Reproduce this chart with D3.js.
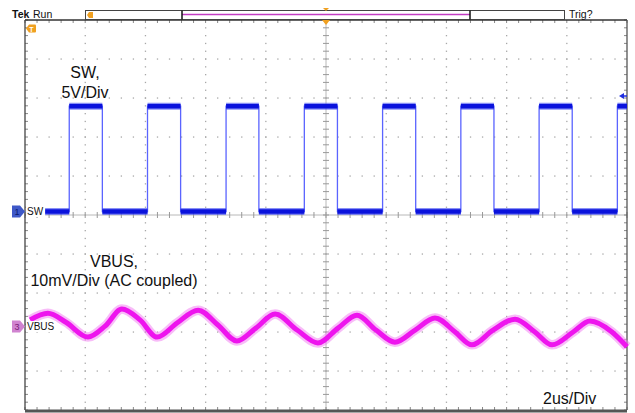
<!DOCTYPE html>
<html>
<head>
<meta charset="utf-8">
<script src="https://cdn.jsdelivr.net/npm/d3@7"></script>
<style>
  html, body { margin: 0; padding: 0; background: #fff; }
  svg { display: block; font-family: "Liberation Sans", Arial, Helvetica, sans-serif; }
</style>
</head>
<body>
<svg id="chart" width="635" height="413"></svg>
<script>
// ---- Data ----
// Scope settings
const timePerDiv = 2;          // us/div
const sw_voltsPerDiv = 5;      // V/div
const vbus_mVPerDiv = 10;      // mV/div
const sw_position = 0.09;      // divisions (ground marker of ch1)
const vbus_position = -2.86;   // divisions (ground marker of ch3)

// SW switching node: rising/falling edge times (us), levels (V)
const swRiseTimes = [-8.53, -5.93, -3.32, -0.72, 1.88, 4.48, 7.08, 9.68];
const swFallTimes = [-7.43, -4.83, -2.23, 0.38, 2.98, 5.58, 8.18];
const swHigh = 13.5;   // V
const swLow = 0.0;     // V
const swStart = -9.95, swEnd = 10.0;

// VBUS ripple (AC coupled): time (us) and value (mV)
const vbusTimes  = [-9.83, -9.24, -8.64, -7.91, -7.34, -6.78, -6.18, -5.61, -4.95, -4.25, -3.59, -2.96,
                    -2.33, -1.69, -0.96, -0.27, 0.40, 1.03, 1.66, 2.29, 2.96, 3.62, 4.29, 4.85,
                    5.55, 6.28, 6.94, 7.51, 8.21, 8.77, 9.50, 10.0];
const vbusValues = [1.7, 3.4, 1.1, -2.7, 0.1, 4.5, 1.7, -2.7, 0.9, 4.2, 0.4, -3.7,
                    -0.4, 3.2, -0.9, -4.2, -0.4, 2.9, -0.9, -4.0, -0.9, 2.2, -1.4, -4.7,
                    -0.9, 1.9, -1.4, -4.7, -1.4, 1.4, -1.4, -5.2];

// Grid divisions
const xDivs = d3.range(-5, 5.001, 1);
const yDivs = d3.range(-5, 5.001, 1);

// Labels
const swLabel = ["SW,", "5V/Div"];
const vbusLabel = ["VBUS,", "10mV/Div (AC coupled)"];
const timeLabel = "2us/Div";

// ---- Scales ----
const svg = d3.select("#chart");
const X = d3.scaleLinear().domain([-5, 5]).range([25, 627]);   // divisions -> px
const Y = d3.scaleLinear().domain([-5, 5]).range([410, 20]);
const T = d3.scaleLinear().domain([-5 * timePerDiv, 5 * timePerDiv]).range([25, 627]);
const ySW = v => Y(sw_position + v / sw_voltsPerDiv);
const yVB = mv => Y(vbus_position + mv / vbus_mVPerDiv);

// ---- Grid ----
const grid = svg.append("g");
const minor = d3.range(-5, 5.001, 0.2).map(v => Math.round(v * 10) / 10);
const dotColor = "#a8a8a8";
xDivs.filter(d => d !== 0 && Math.abs(d) !== 5).forEach(d => {
  grid.selectAll(null).data(minor.filter(m => Math.abs(m) !== 5)).enter().append("rect")
    .attr("x", X(d) - 0.6).attr("y", m => Y(m) - 0.6).attr("width", 1.3).attr("height", 1.3)
    .attr("fill", dotColor);
});
yDivs.filter(d => d !== 0 && Math.abs(d) !== 5).forEach(d => {
  grid.selectAll(null).data(minor.filter(m => Math.abs(m) !== 5)).enter().append("rect")
    .attr("x", m => X(m) - 0.6).attr("y", Y(d) - 0.6).attr("width", 1.3).attr("height", 1.3)
    .attr("fill", dotColor);
});
grid.append("line").attr("x1", X(0)).attr("x2", X(0)).attr("y1", Y(5)).attr("y2", Y(-5))
  .attr("stroke", "#b8b8b8").attr("stroke-width", 1);
grid.append("line").attr("x1", X(-5)).attr("x2", X(5)).attr("y1", Y(0)).attr("y2", Y(0))
  .attr("stroke", "#b8b8b8").attr("stroke-width", 1);
grid.selectAll(null).data(minor).enter().append("line")
  .attr("x1", X(0) - 3).attr("x2", X(0) + 3).attr("y1", m => Y(m)).attr("y2", m => Y(m))
  .attr("stroke", "#999").attr("stroke-width", 1);
grid.selectAll(null).data(minor).enter().append("line")
  .attr("y1", Y(0) - 3).attr("y2", Y(0) + 3).attr("x1", m => X(m)).attr("x2", m => X(m))
  .attr("stroke", "#999").attr("stroke-width", 1);
grid.selectAll(null).data(minor).enter().append("line")
  .attr("x1", m => X(m)).attr("x2", m => X(m)).attr("y1", Y(5)).attr("y2", Y(5) + 3)
  .attr("stroke", "#888");
grid.selectAll(null).data(minor).enter().append("line")
  .attr("x1", m => X(m)).attr("x2", m => X(m)).attr("y1", Y(-5)).attr("y2", Y(-5) - 3)
  .attr("stroke", "#888");
grid.selectAll(null).data(minor).enter().append("line")
  .attr("x1", X(-5)).attr("x2", X(-5) + 3).attr("y1", m => Y(m)).attr("y2", m => Y(m))
  .attr("stroke", "#888");
grid.selectAll(null).data(minor).enter().append("line")
  .attr("x1", X(5)).attr("x2", X(5) - 3).attr("y1", m => Y(m)).attr("y2", m => Y(m))
  .attr("stroke", "#888");
grid.append("line").attr("x1", X(-5)).attr("x2", X(5)).attr("y1", Y(5)).attr("y2", Y(5))
  .attr("stroke", "#333").attr("stroke-width", 1.3);
grid.append("line").attr("x1", X(-5)).attr("x2", X(-5)).attr("y1", Y(5)).attr("y2", Y(-5))
  .attr("stroke", "#444").attr("stroke-width", 1.3);
grid.append("line").attr("x1", X(5)).attr("x2", X(5)).attr("y1", Y(5)).attr("y2", Y(-5))
  .attr("stroke", "#555").attr("stroke-width", 1.3);
grid.append("line").attr("x1", X(-5)).attr("x2", X(5)).attr("y1", Y(-5) + 1).attr("y2", Y(-5) + 1)
  .attr("stroke", "#555").attr("stroke-width", 3);

// ---- SW trace ----
const swPts = [[swStart, swLow]];
swRiseTimes.forEach((r, i) => {
  swPts.push([r, swLow], [r, swHigh]);
  if (i < swFallTimes.length) swPts.push([swFallTimes[i], swHigh], [swFallTimes[i], swLow]);
});
swPts.push([swEnd, swHigh]);
const swLine = d3.line().x(d => T(d[0])).y(d => ySW(d[1]));
svg.append("path").datum(swPts).attr("d", swLine)
  .attr("fill", "none").attr("stroke", "#5a64ff").attr("stroke-width", 1.3);
const segs = [];
for (let i = 0; i < swPts.length - 1; i++) {
  if (swPts[i][1] === swPts[i + 1][1] && swPts[i][0] !== swPts[i + 1][0]) segs.push([swPts[i], swPts[i + 1]]);
}
svg.selectAll(null).data(segs).enter().append("path")
  .attr("d", d => swLine(d))
  .attr("fill", "none").attr("stroke", "#3a46f0").attr("stroke-width", 7).attr("opacity", 0.6);
svg.selectAll(null).data(segs).enter().append("path")
  .attr("d", d => swLine(d))
  .attr("fill", "none").attr("stroke", "#0a12dc").attr("stroke-width", 4.5);

// ---- VBUS trace ----
const vbData = vbusTimes.map((t, i) => [t, vbusValues[i]]);
const vbLine = d3.line().x(d => T(d[0])).y(d => yVB(d[1])).curve(d3.curveMonotoneX);
svg.append("path").datum(vbData).attr("d", vbLine)
  .attr("fill", "none").attr("stroke", "#f27af2").attr("stroke-width", 9.5).attr("opacity", 0.5);
svg.append("path").datum(vbData).attr("d", vbLine)
  .attr("fill", "none").attr("stroke", "#ee14ee").attr("stroke-width", 5);

// ---- Top status bar ----
svg.append("text").attr("x", 12).attr("y", 18).attr("font-size", 10.5).attr("font-weight", "bold")
  .attr("fill", "#111").text("Tek");
svg.append("text").attr("x", 33).attr("y", 18).attr("font-size", 10.5).attr("fill", "#111").text("Run");
svg.append("rect").attr("x", 85.5).attr("y", 10.5).attr("width", 479).attr("height", 9)
  .attr("fill", "#fff").attr("stroke", "#444").attr("stroke-width", 1);
svg.append("line").attr("x1", 182).attr("x2", 470).attr("y1", 14.5).attr("y2", 14.5)
  .attr("stroke", "#c23cc2").attr("stroke-width", 1.5);
[182, 470].forEach(x => svg.append("line").attr("x1", x).attr("x2", x).attr("y1", 10.5).attr("y2", 19.5)
  .attr("stroke", "#111").attr("stroke-width", 1.5));
svg.append("path").attr("d", "M87,15 L89,12 L93,12 L93,18 L89,18 Z").attr("fill", "#f0a020");
svg.append("path").attr("d", `M${X(0) - 3},8 L${X(0) + 3},8 L${X(0)},11 Z`).attr("fill", "#f0a020");
svg.append("path").attr("d", `M${X(0) - 4},20 L${X(0) + 4},20 L${X(0)},25 Z`).attr("fill", "#f0a020");
svg.append("text").attr("x", 569).attr("y", 18).attr("font-size", 10.5).attr("fill", "#111").text("Trig?");

svg.append("path").attr("d", "M26,28.5 L29,24.5 L35,24.5 Q36,24.5 36,25.5 L36,31.5 Q36,32.5 35,32.5 L29,32.5 Z")
  .attr("fill", "#f0a020");
svg.append("text").attr("x", 31.5).attr("y", 31.5).attr("font-size", 7).attr("font-weight", "bold")
  .attr("text-anchor", "middle").attr("fill", "#fff").text("T");
svg.append("path").attr("d", "M619,96 L624,93 L624,99 Z").attr("fill", "#2030e0");
svg.append("line").attr("x1", 622).attr("x2", 627).attr("y1", 96).attr("y2", 96)
  .attr("stroke", "#2030e0").attr("stroke-width", 1.5);

function chMarker(y, fill, txtFill, num, name) {
  svg.append("path")
    .attr("d", `M12,${y - 6} L20,${y - 6} L25,${y} L20,${y + 6} L12,${y + 6} Z`)
    .attr("fill", fill);
  svg.append("text").attr("x", 17).attr("y", y + 3.5).attr("font-size", 9)
    .attr("text-anchor", "middle").attr("fill", txtFill).text(num);
  const bg = svg.append("rect").attr("x", 26).attr("y", y - 5.5).attr("height", 11).attr("fill", "#fff");
  const t = svg.append("text").attr("x", 27).attr("y", y + 3.5).attr("font-size", 10)
    .attr("fill", "#111").text(name);
  bg.attr("width", t.node().getComputedTextLength() + 3);
}
chMarker(ySW(0), "#3e58c8", "#0a1a70", "1", "SW");
chMarker(yVB(0), "#d083d0", "#7a207a", "3", "VBUS");

// ---- Annotations ----
const ann = svg.append("g").attr("font-size", 16).attr("fill", "#111").attr("text-anchor", "middle");
ann.append("text").attr("x", 85).attr("y", 78).text(swLabel[0]);
ann.append("text").attr("x", 85).attr("y", 98).text(swLabel[1]);
ann.append("text").attr("x", 114).attr("y", 267).text(vbusLabel[0]);
ann.append("text").attr("x", 114).attr("y", 286).text(vbusLabel[1]);
svg.append("text").attr("x", 543).attr("y", 404).attr("font-size", 16).attr("fill", "#111").text(timeLabel);
</script>
</body>
</html>
